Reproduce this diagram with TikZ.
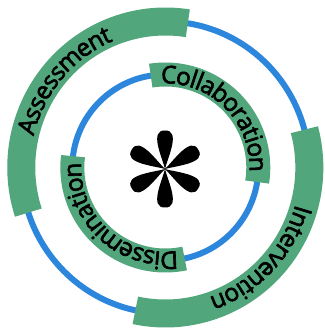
\documentclass[tikz,border=0pt]{standalone}
\usepackage{fontspec}
\setmainfont{Open Sans}
\newfontfamily\bandfont[FakeBold=2.5]{Open Sans}
\usetikzlibrary{decorations.text}
\definecolor{bandgreen}{RGB}{82,166,124}
\definecolor{ringblue}{RGB}{44,134,220}
\tikzset{
  ring/.style={draw=ringblue, line width=6pt},
  outerband/.style={draw=bandgreen, line width=28pt, line cap=butt},
  innerband/.style={draw=bandgreen, line width=24pt, line cap=butt},
  bandtext/.style={postaction={decorate, decoration={text along path, text align=center, raise=-8.8pt,
    text={|\bandfont\fontsize{24.5}{24.5}\selectfont|#1}}}}
}
\begin{document}
\begin{tikzpicture}[x=1pt, y=1pt, line join=round]
\def\Rx{144} \def\Ry{146} % outer ring
\def\r{93} % inner ring
\useasboundingbox (-165.3,-163.5) rectangle (158.7,167.5);
\coordinate (O) at (0,0);
\coordinate (S) at (-0.3,-1.5);
\draw[ring] (O) ellipse[x radius=\Rx, y radius=\Ry];
\draw[ring] (O) circle[radius=\r];
% outer bands
\draw[outerband, bandtext=Assessment] (198:{\Rx} and {\Ry}) arc[start angle=198, end angle=81, x radius=\Rx, y radius=\Ry];
\draw[outerband, bandtext=Intervention] (15:{\Rx} and {\Ry}) arc[start angle=15, end angle=-102, x radius=\Rx, y radius=\Ry];
% inner bands
\draw[innerband, bandtext=Collaboration] (99:\r) arc[start angle=99, end angle=-9, radius=\r];
\draw[innerband, bandtext=Dissemination] (282:\r) arc[start angle=282, end angle=173, radius=\r];
% asterisk
\foreach \a in {0,60,...,300}
  \fill[shift={(S)}, rotate=\a] (0,0) .. controls (-3,12) and (-16,39) .. (0,38.5) .. controls (16,39) and (3,12) .. (0,0) -- cycle;
\end{tikzpicture}
\end{document}
